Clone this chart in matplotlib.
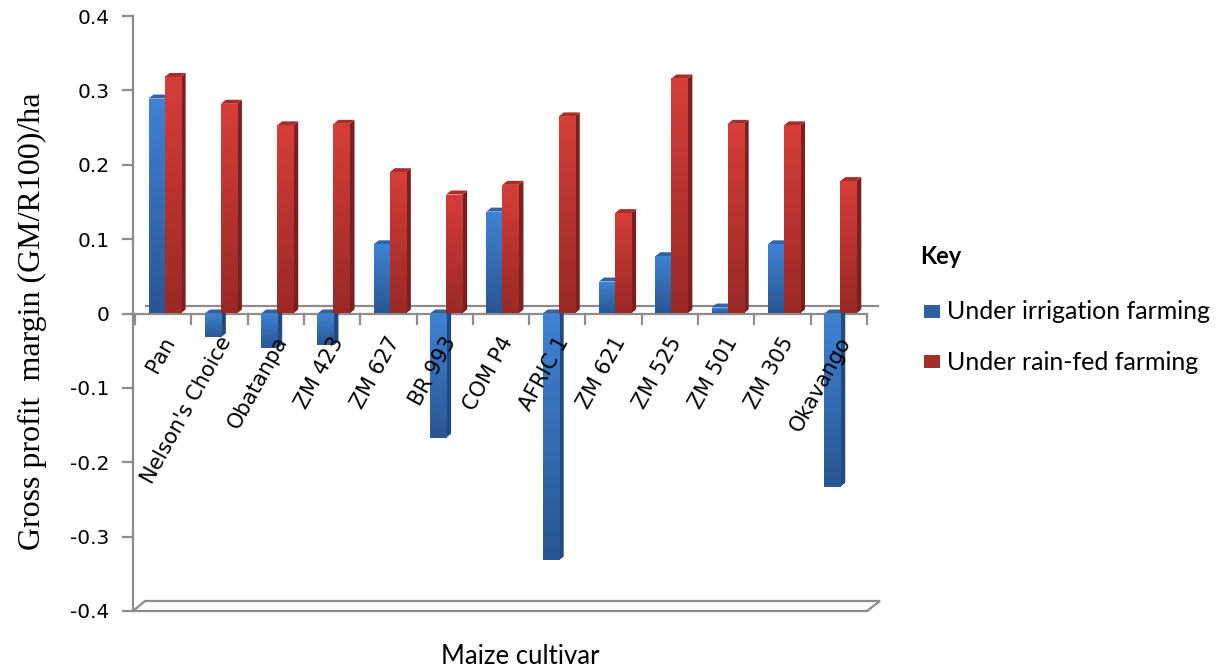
import matplotlib
matplotlib.use("Agg")
import matplotlib.pyplot as plt
import numpy as np
from matplotlib.patches import Polygon, Rectangle
from matplotlib.colors import LinearSegmentedColormap

cultivars = ["Pan", "Nelson's Choice", "Obatanpa", "ZM 423", "ZM 627", "BR 993",
             "COM P4", "AFRIC 1", "ZM 621", "ZM 525", "ZM 501", "ZM 305", "Okavango"]
irrigation = [0.289, -0.032, -0.047, -0.043, 0.093, -0.167, 0.137, -0.332,
              0.043, 0.077, 0.008, 0.093, -0.233]
rainfed = [0.318, 0.282, 0.253, 0.255, 0.190, 0.160, 0.173, 0.265,
           0.135, 0.316, 0.255, 0.253, 0.178]
yticks = [0.4, 0.3, 0.2, 0.1, 0, -0.1, -0.2, -0.3, -0.4]
series_names = ["Under irrigation farming", "Under rain-fed farming"]

W, H = 1220, 670
fig = plt.figure(figsize=(W / 100, H / 100), dpi=100)
L, R, T, B = 135, 867, 16, 611
ax = fig.add_axes([L / W, 1 - B / H, (R - L) / W, (B - T) / H])
n = len(cultivars)
ax.set_xlim(0, n)
ax.set_ylim(-0.4, 0.4)
px = n / (R - L)          # data units per pixel, x
py = 0.8 / (B - T)        # data units per pixel, y

grey = "#8c8c8c"
for s in ["top", "right", "bottom"]:
    ax.spines[s].set_visible(False)
ax.spines["left"].set_color(grey)
ax.spines["left"].set_linewidth(1.6)
ax.spines["left"].set_position(("data", -2 * px))
ax.set_xticks([])
ax.set_yticks(yticks)
ax.set_yticklabels(["0" if v == 0 else f"{v:.1f}" for v in yticks],
                   fontsize=14.5, family="DejaVu Sans")
ax.tick_params(axis="y", direction="out", length=8, width=1.6, color=grey, pad=9)

# floor at -0.4
floor = Polygon([(-2 * px, -0.4), (10 * px, -0.4 + 10 * py),
                 (745 * px, -0.4 + 10 * py), (732 * px, -0.4)],
                closed=True, facecolor="white", edgecolor=grey, lw=1.6,
                clip_on=False, zorder=1)
ax.add_patch(floor)

# back wall zero line and front axis line
ax.plot([11 * px, 743 * px], [8 * py, 8 * py], color=grey, lw=1.6,
        clip_on=False, zorder=1)
ax.plot([-2 * px, n], [0, 0], color=grey, lw=1.6, clip_on=False, zorder=1)
for k in range(n + 1):
    ax.plot([k, k], [0, -10 * py], color=grey, lw=1.6, clip_on=False, zorder=1)

dx, dy = 5 * px, 4 * py
width = 0.285
styles = [
    (0.24, ("#3f83d4", "#2a5693"), "#23497f", "#2f65a8", "#2f5f9e"),
    (0.525, ("#d63e39", "#9a2926"), "#7b201e", "#a82e2b", "#a0302c"),
]


def draw_bar(x0, v, colors, side_c, top_c, z):
    lo, hi = min(0, v), max(0, v)
    side = Polygon([(x0 + width, lo), (x0 + width + dx, lo + dy),
                    (x0 + width + dx, hi + dy), (x0 + width, hi)],
                   closed=True, facecolor=side_c, edgecolor="none", zorder=z)
    top = Polygon([(x0, hi), (x0 + dx, hi + dy), (x0 + width + dx, hi + dy),
                   (x0 + width, hi)], closed=True, facecolor=top_c,
                  edgecolor="none", zorder=z)
    ax.add_patch(side)
    ax.add_patch(top)
    rect = Rectangle((x0, lo), width, hi - lo, facecolor="none",
                     edgecolor="none", zorder=z)
    ax.add_patch(rect)
    cmap = LinearSegmentedColormap.from_list("g", [colors[1], colors[0]])
    im = ax.imshow(np.linspace(0, 1, 64).reshape(-1, 1), cmap=cmap,
                   extent=[x0, x0 + width, lo, hi], origin="lower",
                   aspect="auto", zorder=z, interpolation="bilinear")
    im.set_clip_path(rect)


for si, vals in enumerate([irrigation, rainfed]):
    off, cols, side_c, top_c, leg_c = styles[si]
    for i, v in enumerate(vals):
        draw_bar(i + off, v, cols, side_c, top_c, 3 + si + i * 0.01)

ax.set_xlim(0, n)
ax.set_ylim(-0.4, 0.4)

for i, name in enumerate(cultivars):
    ax.text(i + 0.5 + 0.12, -0.033, name, rotation=61, ha="right", va="center",
            rotation_mode="anchor", fontsize=15, family="DejaVu Sans",
            zorder=10)

fig.text(32 / W, 1 - 321 / H, "Gross profit  margin (GM/R100)/ha", rotation=90,
         ha="center", va="center", fontsize=23, family="Liberation Serif")
fig.text(520 / W, 1 - 657 / H, "Maize cultivar", ha="center", va="center",
         fontsize=18.5, family="Lato")

# key
fig.text(920 / W, 1 - 257 / H, "Key", ha="left", va="center", fontsize=17,
         family="Lato", fontweight="bold")
for j, (name, yc) in enumerate(zip(series_names, [312, 362])):
    fig.patches.append(Rectangle((924 / W, 1 - (yc + 6) / H), 16 / W, 13 / H,
                                 transform=fig.transFigure,
                                 facecolor=styles[j][4], edgecolor="none"))
    fig.text(947 / W, 1 - yc / H, name, ha="left", va="center", fontsize=18,
             family="Lato")

fig.savefig("out.png", dpi=100)
